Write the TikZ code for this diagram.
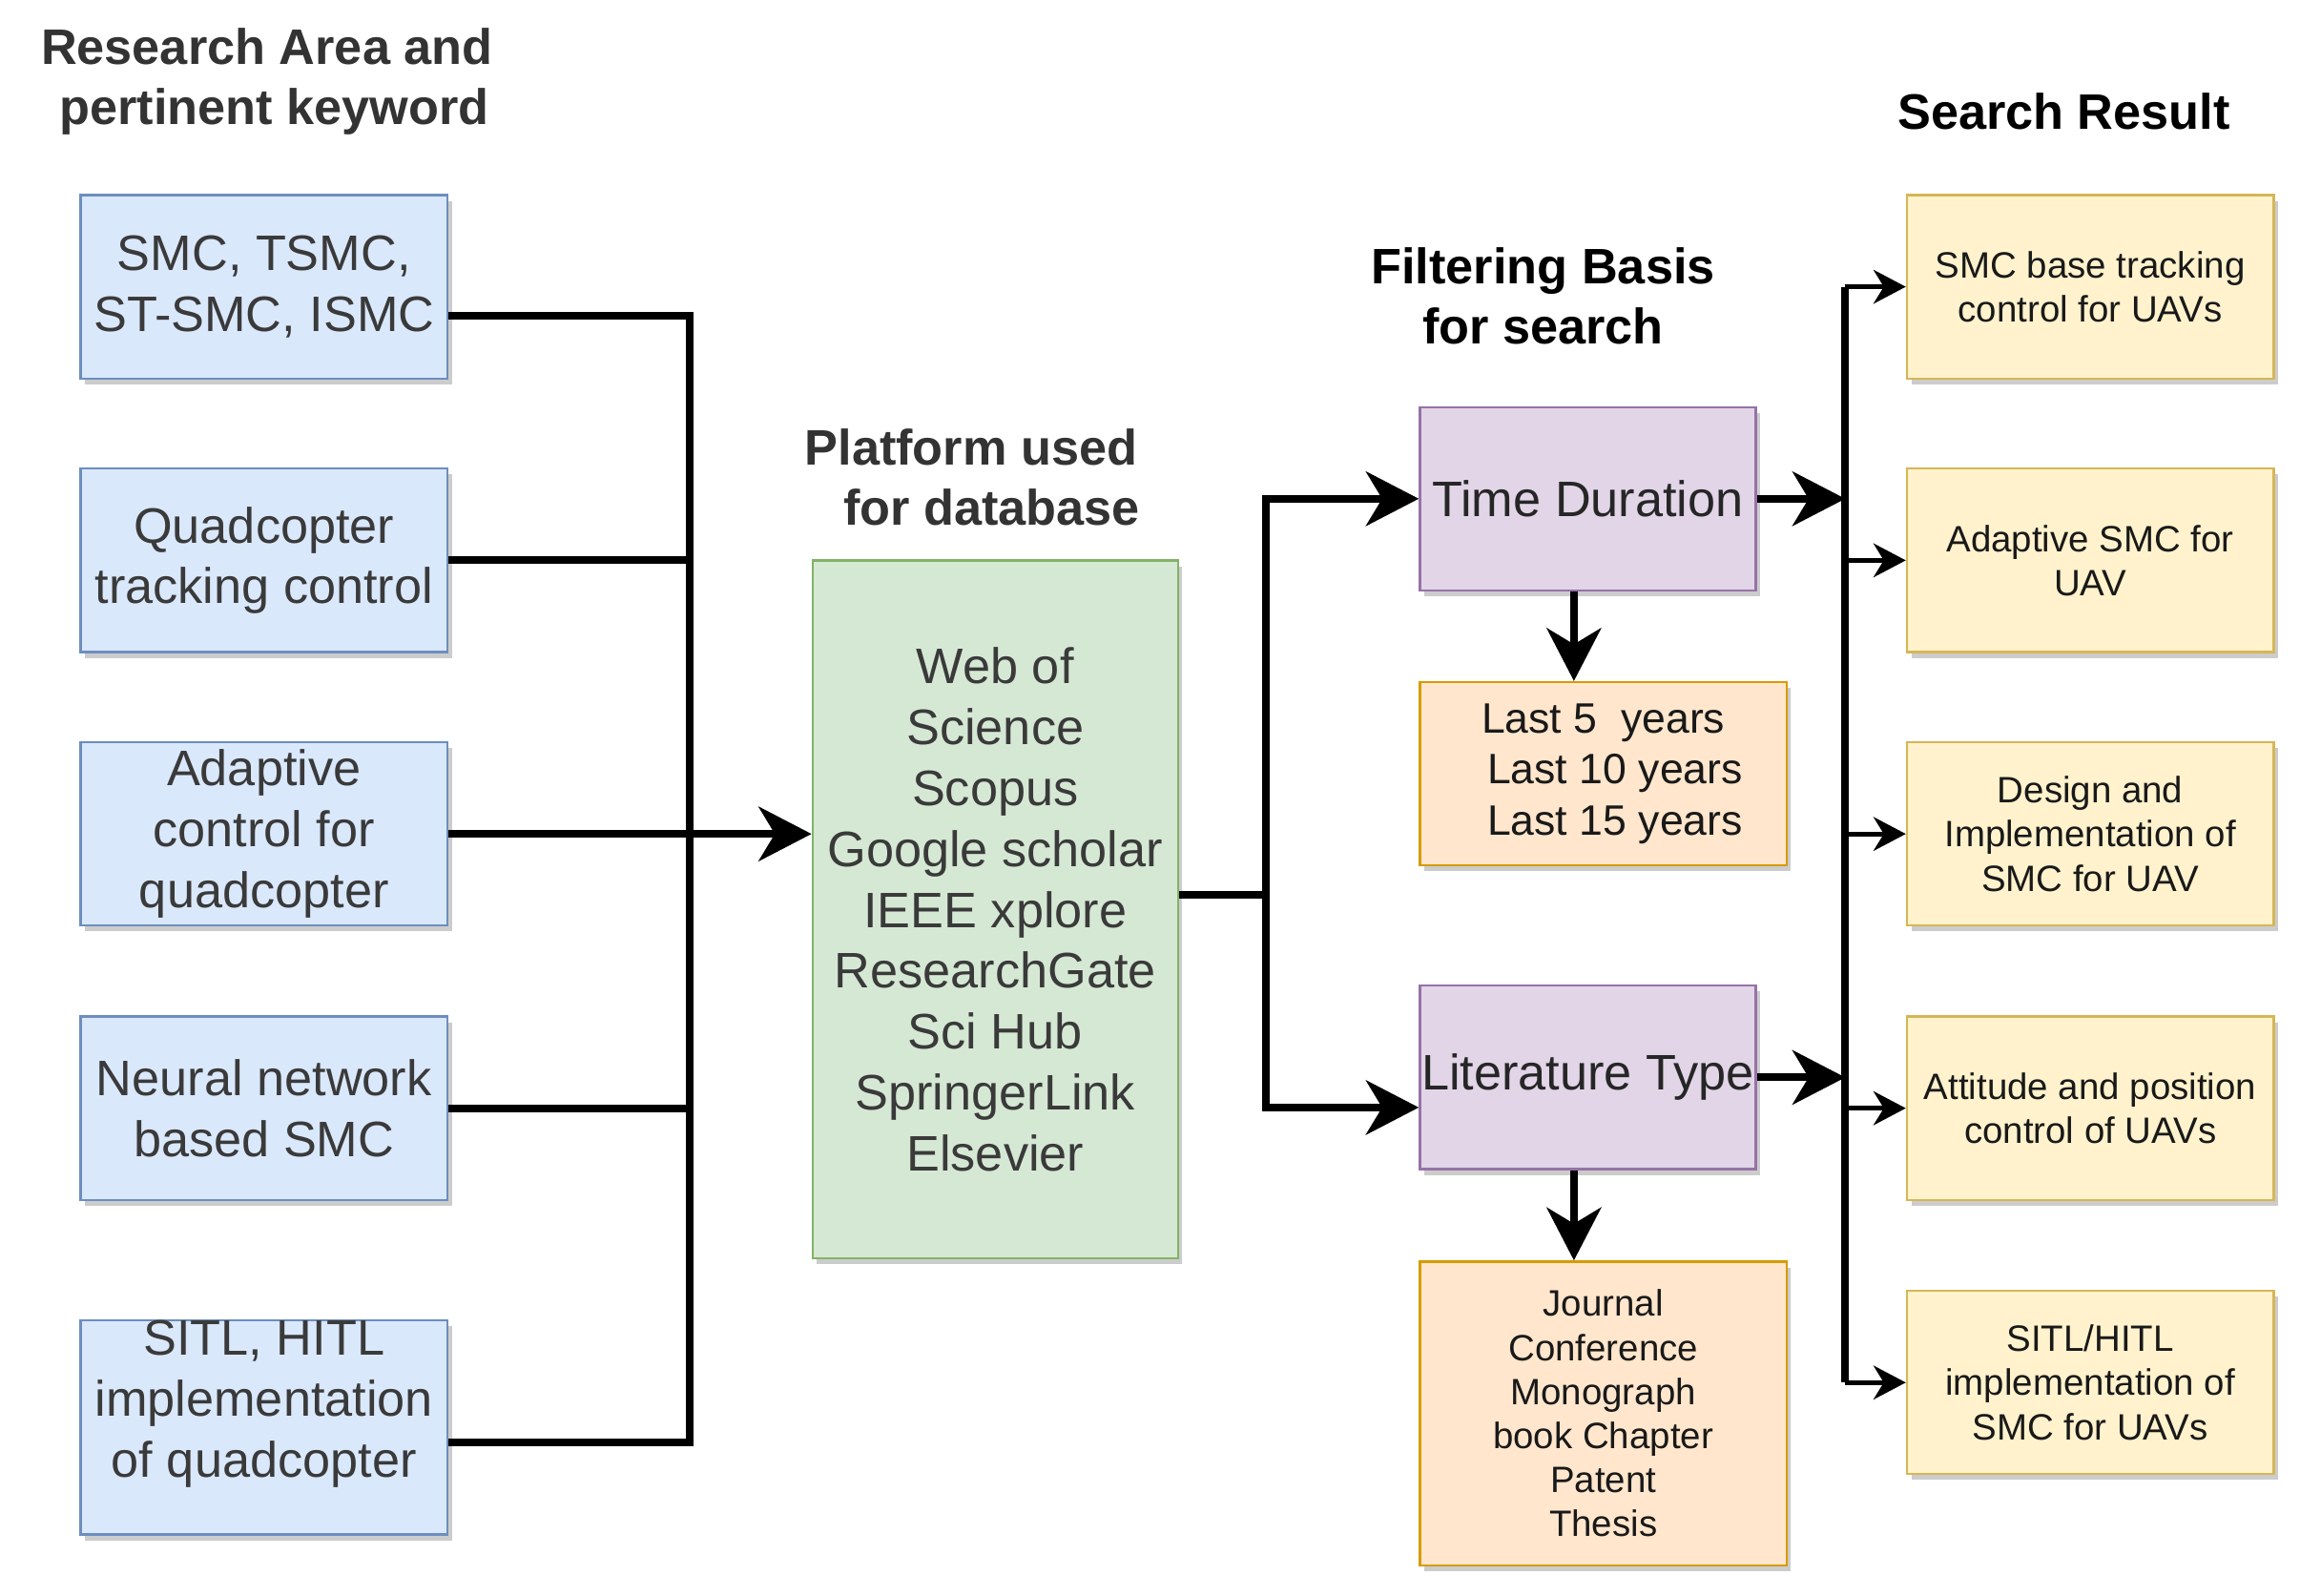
\documentclass[tikz,border=0pt]{standalone}
\usepackage{fontspec}
\setmainfont{Liberation Sans}
\usetikzlibrary{arrows.meta,shadows,calc}
\definecolor{bfill}{HTML}{DAE8FC}\definecolor{bdraw}{HTML}{6C8EBF}
\definecolor{gfill}{HTML}{D5E8D4}\definecolor{gdraw}{HTML}{82B366}
\definecolor{pfill}{HTML}{E1D5E7}\definecolor{pdraw}{HTML}{9673A6}
\definecolor{ofill}{HTML}{FFE6CC}\definecolor{odraw}{HTML}{D79B00}
\definecolor{yfill}{HTML}{FFF2CC}\definecolor{ydraw}{HTML}{D6B656}
\definecolor{txtgray}{HTML}{3A3A3A}
\definecolor{hdgray}{HTML}{333333}
\begin{document}
\begin{tikzpicture}[x=1pt,y=-1pt,
  box/.style={draw, line width=1.5pt, inner sep=0pt, align=center,
    drop shadow={shadow xshift=3pt, shadow yshift=-4pt, fill=black, opacity=0.2}},
  lbox/.style={box, fill=bfill, draw=bdraw, minimum width=250pt, minimum height=125pt,
    font=\fontsize{34}{41.5}\selectfont, text=txtgray},
  gbox/.style={box, fill=gfill, draw=gdraw, minimum width=249pt, minimum height=476pt,
    font=\fontsize{34}{41.5}\selectfont, text=txtgray},
  pbox/.style={box, fill=pfill, draw=pdraw, minimum width=229pt, minimum height=125pt,
    font=\fontsize{34}{41.5}\selectfont, text=black!85},
  obox/.style={box, fill=ofill, draw=odraw, minimum width=250pt},
  ybox/.style={box, fill=yfill, draw=ydraw, minimum width=250pt, minimum height=125pt,
    font=\fontsize{25}{30}\selectfont, text=black!90},
  head/.style={align=center, font=\bfseries\fontsize{34}{41}\selectfont, inner sep=0pt},
  plaintext/.style={align=center, inner sep=0pt},
  conn/.style={line width=5.2pt, draw=black},
  thin/.style={line width=3.2pt, draw=black},
  bigtip/.style={-{Stealth[length=36pt,width=37pt,inset=11pt]}},
  smalltip/.style={-{Stealth[length=22pt,width=23pt,inset=7pt]}}
]
\useasboundingbox[fill=white] (0,0) rectangle (1568,1088);

% headers
\node[head, text=hdgray] (h1) at (182,55.5) {Research Area and\\\hspace*{10pt}pertinent keyword};
\node[head, text=hdgray] (h2) at (662,325.5) {Platform used\\\hspace*{28pt}for database};
\node[head, text=black] (h3) at (1052,201.5) {Filtering Basis\\for search};
\node[head, text=black] (h4) at (1407,76) {Search Result};

% left boxes
\node[lbox] (k1) at (180,195.5) {SMC, TSMC,\\ST-SMC, ISMC};
\node[lbox] (k2) at (180,382) {Quadcopter\\tracking control};
\node[lbox] (k3) at (180,568.5) {Adaptive\\control for\\quadcopter};
\node[lbox] (k4) at (180,755.5) {Neural network\\based SMC};
\node[lbox, minimum height=146pt] (k5) at (180,973) {};
\node[plaintext, font=\fontsize{34}{41.5}\selectfont, text=txtgray] (k5t) at (180,957) {SITL, HITL\\implementation\\of quadcopter};

% platform
\node[gbox] (plat) at (678.5,620) {Web of\\Science\\Scopus\\Google scholar\\IEEE xplore\\ResearchGate\\Sci Hub\\SpringerLink\\Elsevier};

% filters
\node[pbox] (td) at (1082.5,340) {Time Duration};
\node[pbox] (lt) at (1082.5,734.5) {Literature Type};
\node[obox, minimum height=125pt, font=\fontsize{29}{35}\selectfont, text=black!90] (ly) at (1093,527.5)
  {Last 5~ years\\\hspace*{16pt}Last 10 years\\\hspace*{16pt}Last 15 years};
\node[obox, minimum height=207pt, font=\fontsize{25}{30}\selectfont, text=black!90] (jr) at (1093,963.5)
  {Journal\\Conference\\Monograph\\book Chapter\\Patent\\Thesis};

% results
\node[ybox] (r1) at (1425,195.5) {SMC base tracking\\control for UAVs};
\node[ybox] (r2) at (1425,382) {Adaptive SMC for\\UAV};
\node[ybox] (r3) at (1425,568.5) {Design and\\Implementation of\\SMC for UAV};
\node[ybox] (r4) at (1425,755.5) {Attitude and position\\control of UAVs};
\node[ybox] (r5) at (1425,942.5) {SITL/HITL\\implementation of\\SMC for UAVs};

% coordinates
\coordinate (busL) at (470,0);
\coordinate (y1) at (0,215);
\coordinate (y5) at (0,983);
\coordinate (busM) at (863,0);
\coordinate (ym) at (0,610);
\coordinate (ylt) at (0,755);
\coordinate (busR) at (1258,0);
\coordinate (dx) at (1073,0);

% left bus
\draw[conn, line join=miter] (k1.east |- y1) -- (busL |- y1) -- (busL |- y5) -- (k5.east |- y5);
\draw[conn] (k2.east) -- (k2.east -| busL);
\draw[conn] (k4.east) -- (k4.east -| busL);
\draw[conn, bigtip] (k3.east) -- (k3.east -| plat.west);

% middle bus
\draw[conn, line join=miter] (plat.east |- ym) -- (busM |- ym);
\draw[conn, bigtip, line join=miter] (busM |- ylt) -- (busM |- td) -- (td.west);
\draw[conn, bigtip, line join=miter] (busM |- ym) -- (busM |- ylt) -- (lt.west |- ylt);

% down arrows
\draw[conn, bigtip] (td.south -| dx) -- (ly.north -| dx);
\draw[conn, bigtip] (lt.south -| dx) -- (jr.north -| dx);

% right bus
\draw[conn] (busR |- r1) -- (busR |- r5);
\draw[conn, bigtip] (td.east) -- (td.east -| busR);
\draw[conn, bigtip] (lt.east) -- (lt.east -| busR);
\foreach \r in {r1,r2,r3,r4,r5}
  \draw[thin, smalltip] (busR |- \r) -- (\r.west);
\end{tikzpicture}
\end{document}
